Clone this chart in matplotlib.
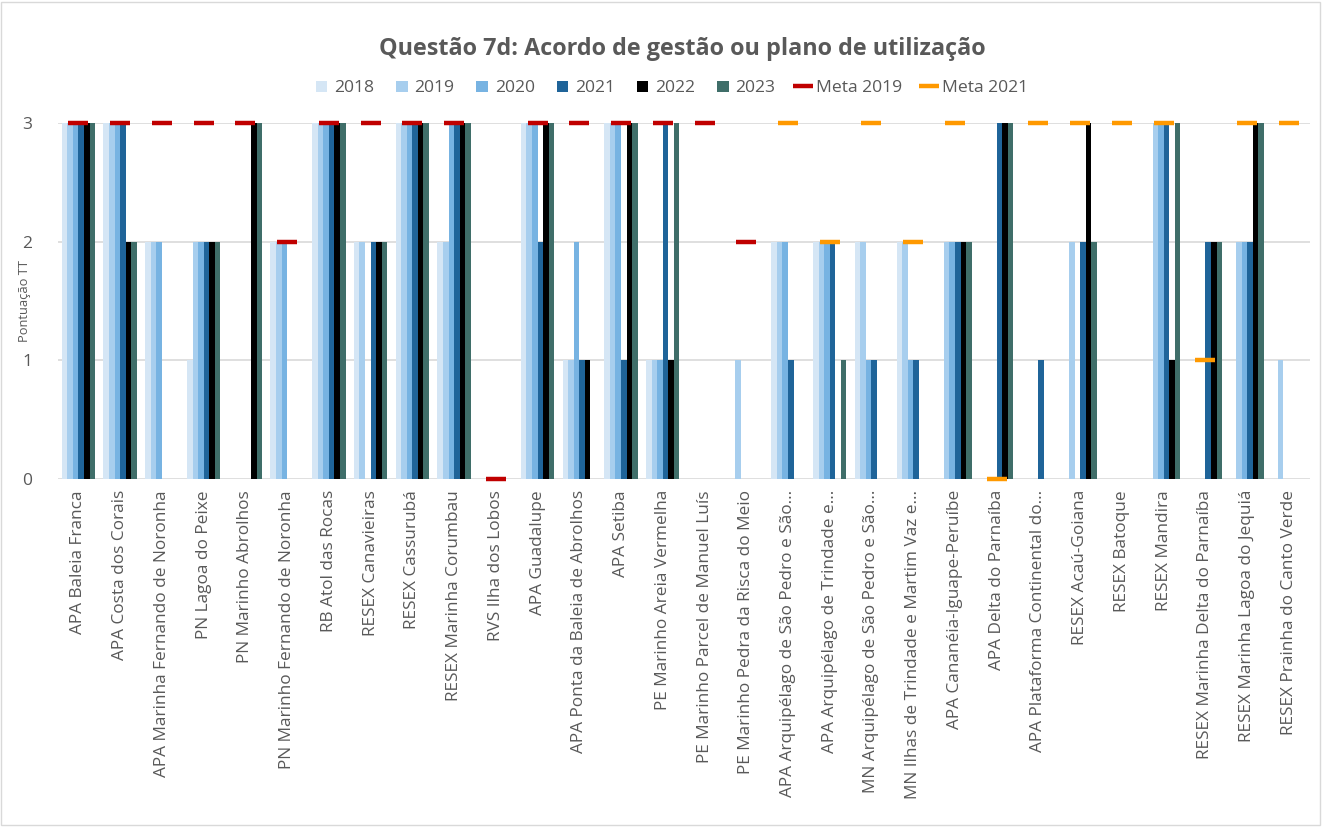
import matplotlib
matplotlib.use("Agg")
import matplotlib.pyplot as plt
import numpy as np
from matplotlib.patches import Rectangle

plt.rcParams['font.family'] = ['Open Sans', 'DejaVu Sans']

categories = [
    "APA Baleia Franca", "APA Costa dos Corais", "APA Marinha Fernando de Noronha",
    "PN Lagoa do Peixe", "PN Marinho Abrolhos", "PN Marinho Fernando de Noronha",
    "RB Atol das Rocas", "RESEX Canavieiras", "RESEX Cassurubá",
    "RESEX Marinha Corumbau", "RVS Ilha dos Lobos", "APA Guadalupe",
    "APA Ponta da Baleia de Abrolhos", "APA Setiba", "PE Marinho Areia Vermelha",
    "PE Marinho Parcel de Manuel Luís", "PE Marinho Pedra da Risca do Meio",
    "APA Arquipélago de São Pedro e São...", "APA Arquipélago de Trindade e...",
    "MN Arquipélago de São Pedro e São...", "MN Ilhas de Trindade e Martim Vaz e...",
    "APA Cananéia-Iguape-Peruíbe", "APA Delta do Parnaíba",
    "APA Plataforma Continental do...", "RESEX Acaú-Goiana", "RESEX Batoque",
    "RESEX Mandira", "RESEX Marinha Delta do Parnaíba",
    "RESEX Marinha Lagoa do Jequiá", "RESEX Prainha do Canto Verde",
]

v2018 = [3, 3, 2, 1, 0, 2, 3, 2, 3, 2, 0, 3, 1, 3, 1, 0, 0, 2, 2, 2, 2, 0, 0, 0, 0, 0, 0, 0, 0, 0]
v2019 = [3, 3, 2, 2, 0, 2, 3, 2, 3, 2, 0, 3, 1, 3, 1, 0, 1, 2, 2, 2, 2, 2, 0, 0, 2, 0, 3, 0, 2, 1]
v2020 = [3, 3, 2, 2, 0, 2, 3, 0, 3, 3, 0, 3, 2, 3, 1, 0, 0, 2, 2, 1, 1, 2, 0, 0, 0, 0, 3, 0, 2, 0]
v2021 = [3, 3, 0, 2, 0, 0, 3, 2, 3, 3, 0, 2, 1, 1, 3, 0, 0, 1, 2, 1, 1, 2, 3, 1, 2, 0, 3, 2, 2, 0]
v2022 = [3, 2, 0, 2, 3, 0, 3, 2, 3, 3, 0, 3, 1, 3, 1, 0, 0, 0, 0, 0, 0, 2, 3, 0, 3, 0, 1, 2, 3, 0]
v2023 = [3, 2, 0, 2, 3, 0, 3, 2, 3, 3, 0, 3, 0, 3, 3, 0, 0, 0, 1, 0, 0, 2, 3, 0, 2, 0, 3, 2, 3, 0]

nan = np.nan
meta2019 = [3, 3, 3, 3, 3, 2, 3, 3, 3, 3, 0, 3, 3, 3, 3, 3, 2,
            nan, nan, nan, nan, nan, nan, nan, nan, nan, nan, nan, nan, nan]
meta2021 = [nan] * 17 + [3, 2, 3, 2, 3, 0, 3, 3, 3, 3, 1, 3, 3]

series = [("2018", v2018, "#D5E6F5"), ("2019", v2019, "#A7CEEE"),
          ("2020", v2020, "#77B3E2"), ("2021", v2021, "#1F6499"),
          ("2022", v2022, "#000000"), ("2023", v2023, "#3F6E69")]

fig = plt.figure(figsize=(13.23, 8.27), dpi=100)
fig.patches.append(Rectangle((0.001, 0.003), 0.997, 0.995, transform=fig.transFigure,
                             fill=False, edgecolor="#D9D9D9", linewidth=1.0))
ax = fig.add_axes([0.0435, 0.4208, 0.9465, 0.4305])

x = np.arange(len(categories))
w = 0.8 / 6
handles = []
for i, (name, vals, col) in enumerate(series):
    b = ax.bar(x + (i - 2.5) * w, vals, width=w, color=col, label=name, zorder=2)
    handles.append(b)

l1, = ax.plot(x, meta2019, linestyle="none", marker="_", markersize=14,
              markeredgewidth=3.2, color="#C00000", label="Meta 2019", zorder=4, clip_on=False)
l2, = ax.plot(x, meta2021, linestyle="none", marker="_", markersize=14,
              markeredgewidth=3.2, color="#FF9900", label="Meta 2021", zorder=4, clip_on=False)

ax.set_xlim(-0.5, len(categories) - 0.5)
ax.set_ylim(0, 3)
ax.set_yticks([0, 1, 2, 3])
ax.yaxis.grid(True, color="#D9D9D9", linewidth=1.2, zorder=0)
ax.set_axisbelow(True)
for s in ax.spines.values():
    s.set_visible(False)
ax.tick_params(axis="both", length=0, colors="#595959")
ax.tick_params(axis="y", labelsize=12.5, pad=18)
ax.set_xticks(x)
ax.set_xticklabels(categories, rotation=90, fontsize=12.4, color="#595959", va="top")
ax.tick_params(axis="x", pad=8)
ax.set_ylabel("Pontuação TT", fontsize=9.3, color="#595959", labelpad=-6)

fig.text(0.5155, 0.941, "Questão 7d: Acordo de gestão ou plano de utilização",
         ha="center", va="center", fontsize=16.8, fontweight="bold", color="#595959")

leg = fig.legend(handles + [l1, l2], [h.get_label() for h in handles] + ["Meta 2019", "Meta 2021"],
                 loc="center", bbox_to_anchor=(0.508, 0.893), ncol=8, frameon=False,
                 fontsize=12.6, handlelength=0.65, handleheight=0.65, handletextpad=0.4,
                 columnspacing=1.25, labelcolor="#595959")

fig.savefig("out.png", dpi=100)
